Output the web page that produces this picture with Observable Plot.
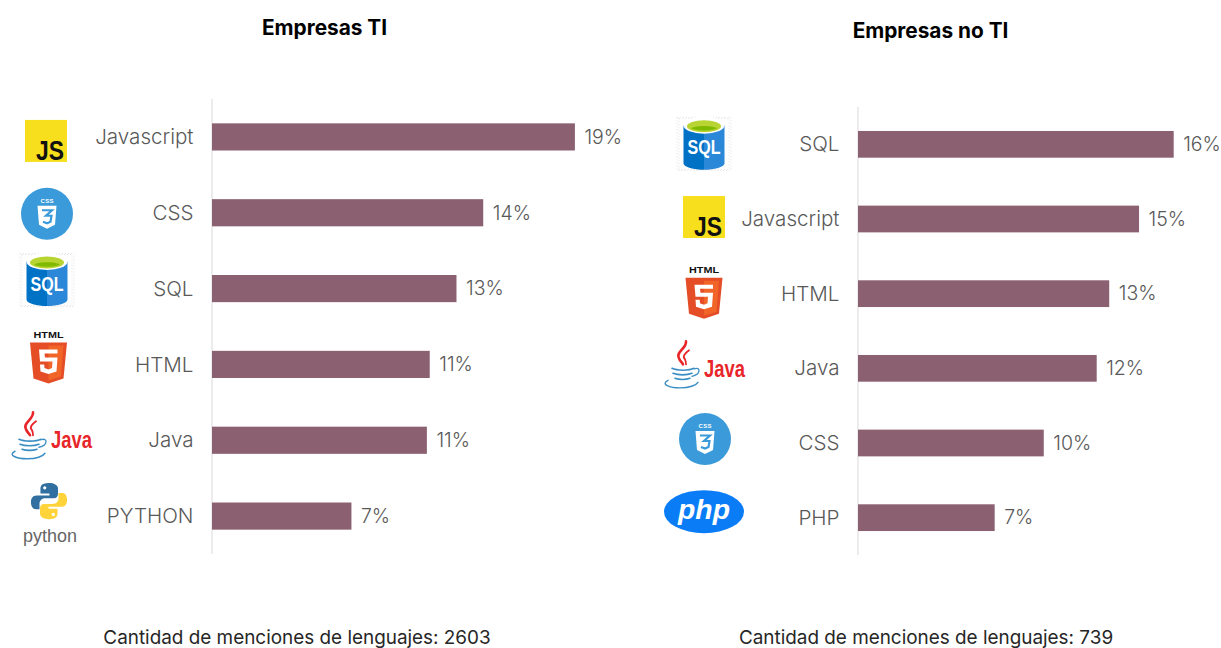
<!DOCTYPE html>
<html lang="es">
<head>
<meta charset="utf-8">
<script src="https://cdn.jsdelivr.net/npm/d3@7"></script>
<script src="https://cdn.jsdelivr.net/npm/@observablehq/plot@0.6"></script>
<style>
html,body{margin:0;padding:0;background:#fff;overflow:hidden}
#page{position:relative;width:1221px;height:648px;overflow:hidden;font-family:Inter,"Open Sans",sans-serif}
#page>div.panel{position:absolute;top:0}
.t{position:absolute;white-space:nowrap;transform:translateX(-50%)}
.title{font-weight:700;font-size:20.8px;color:#000;line-height:24px}
.cap{font-size:18.9px;color:#262626;line-height:20px;font-weight:400}
</style>
</head>
<body>
<div id="page"></div>
<script>
// Data
const categoriesTI = ["Javascript", "CSS", "SQL", "HTML", "Java", "PYTHON"];
const valuesTI = [19.0, 14.2, 12.8, 11.4, 11.25, 7.3];
const categoriesNoTI = ["SQL", "Javascript", "HTML", "Java", "CSS", "PHP"];
const valuesNoTI = [16.4, 14.6, 13.05, 12.4, 9.65, 7.1];
const titleTI = "Empresas TI";
const titleNoTI = "Empresas no TI";
const captionTI = "Cantidad de menciones de lenguajes: 2603";
const captionNoTI = "Cantidad de menciones de lenguajes: 739";

const FONT = 'Inter,"Open Sans",sans-serif';
const BAR = "#8b6071", INK = "#595959";

// Logos: markup centred on (0,0), in px
const LOGO = {
  Javascript: `<rect x="-21" y="-21" width="42" height="42" fill="#f7df1e"/>
    <text x="18" y="19" text-anchor="end" font-family="Liberation Sans" font-weight="700" font-size="27" fill="#111" textLength="28" lengthAdjust="spacingAndGlyphs">JS</text>`,
  CSS: `<circle r="26" fill="#3b9ad9"/>
    <text x="0" y="-11" text-anchor="middle" font-family="Liberation Sans" font-weight="700" font-size="6" fill="#fff" textLength="13">CSS</text>
    <path d="M-9.5,-8H9.5L8,11L0,15L-8,11Z" fill="#fff"/>
    <path d="M-5,-3.5H5L-1,2H4.5L3.5,8L0,9.5L-4,8" fill="none" stroke="#3b9ad9" stroke-width="2.2"/>`,
  SQL: `<g fill="none" stroke="#e2e2e2" stroke-width="1" stroke-dasharray="1 2">
      <rect x="-27" y="-26" width="54" height="53"/><rect x="-25" y="-25" width="50" height="51"/>
    </g>
    <path d="M-20.5,-18V20C-20.5,24 -10,26.5 0,26.5V-18Z" fill="#0072c6"/>
    <path d="M20.5,-18V20C20.5,24 10,26.5 0,26.5V-18Z" fill="#2b88d8"/>
    <ellipse cy="-18" rx="20.5" ry="8.5" fill="#fff"/>
    <ellipse cy="-17" rx="17" ry="6" fill="#b8d432"/>
    <path d="M-13,-15C-8,-12 8,-12 13,-15C8,-18 -8,-18 -13,-15Z" fill="#7fb900"/>
    <text x="0" y="11" text-anchor="middle" font-family="Liberation Sans" font-weight="700" font-size="20" fill="#fff" textLength="33" lengthAdjust="spacingAndGlyphs">SQL</text>`,
  HTML: `<text x="0" y="-19.5" text-anchor="middle" font-family="Liberation Sans" font-weight="700" font-size="9" fill="#111" textLength="30" lengthAdjust="spacingAndGlyphs">HTML</text>
    <path d="M-18.5,-15H18.5L15,21L0,26L-15,21Z" fill="#e44d26"/>
    <path d="M0,-12H15L12.5,19L0,23Z" fill="#f16529"/>
    <path d="M9,-8H-9.5L-8.5,4H4L3.5,10.5L0,12L-4,10.5L-4.3,7H-8.5L-8,14L0,16.5L8,14L9,0H-3.5L-4,-4H9Z" fill="#fff"/>`,
  Java: `<g fill="none" stroke="#e8262a" stroke-linecap="round">
      <path d="M-18,-24C-17,-17 -29,-13 -25,-7C-24,-4 -22,-3 -21,-1" stroke-width="2.6"/>
      <path d="M-15,-15C-19,-12 -22,-9 -19,-6C-18,-4 -18,-3 -18,-1" stroke-width="1.8"/>
    </g>
    <g fill="none" stroke="#3b8ec4" stroke-linecap="round">
      <path d="M-32,3C-27,5.5 -15,5.5 -10,3" stroke-width="1.6"/>
      <path d="M-31,8C-26,10 -17,10 -12,8" stroke-width="1.6"/>
      <path d="M-29,13C-25,14.5 -18,14.5 -14,13" stroke-width="1.6"/>
      <path d="M-10,3.5C-3,1 -3,9 -12,11" stroke-width="1.3"/>
      <path d="M-36,15C-44,19 -34,22.5 -24,22.5C-15,22.5 -8,20 -6,17" stroke-width="1.4"/>
    </g>
    <text x="0" y="12" text-anchor="start" font-family="Liberation Sans" font-weight="700" font-size="23" fill="#e8262a" textLength="41" lengthAdjust="spacingAndGlyphs">Java</text>`,
  PYTHON: `<g transform="translate(-2,-14) scale(0.95)">
      <path d="M0,-19C-9,-19 -9,-15 -9,-12V-8H0.5V-6H-13C-17,-6 -19,-3 -19,1C-19,6 -17,8.5 -14,8.5H-10V3C-10,-1 -7,-3 -4,-3H5C8,-3 9.5,-5 9.5,-8V-13C9.5,-17 5,-19 0,-19Z" fill="#306f9f"/>
      <path d="M0,19C9,19 9,15 9,12V8H-0.5V6H13C17,6 19,3 19,-1C19,-6 17,-8.5 14,-8.5H10V-3C10,1 7,3 4,3H-5C-8,3 -9.5,5 -9.5,8V13C-9.5,17 -5,19 0,19Z" fill="#ffd43b"/>
      <circle cx="-4.5" cy="-14" r="1.7" fill="#fff"/><circle cx="4.5" cy="14" r="1.7" fill="#fff"/>
    </g>
    <text x="-1" y="27" text-anchor="middle" font-family="Liberation Sans" font-size="19" fill="#666" textLength="54" lengthAdjust="spacingAndGlyphs">python</text>`,
  PHP: `<ellipse rx="40" ry="21.5" fill="#0a7cf5"/>
    <text x="0" y="7" text-anchor="middle" font-family="Liberation Sans" font-weight="700" font-style="italic" font-size="28" fill="#fff" textLength="52" lengthAdjust="spacingAndGlyphs">php</text>`
};

// Render-function mark: each logo sits at a pixel x, offset from its band centre
function logos(names, place) {
  return (index, {y}) => {
    const g = d3.create("svg:g");
    names.forEach((n) => {
      const [cx, dy] = place[n];
      g.append("g")
        .attr("transform", `translate(${cx},${y(n) + y.bandwidth() / 2 + dy})`)
        .html(LOGO[n]);
    });
    return g.node();
  };
}

function panel({names, values, top, bottom, x0, pxPerUnit, labelGap, width, left, place}) {
  const rows = names.map((name, i) => ({name, value: values[i]}));
  const svg = Plot.plot({
    width, height: 648,
    marginLeft: x0, marginRight: 0, marginTop: top, marginBottom: 648 - bottom,
    style: {fontFamily: FONT, background: "transparent"},
    x: {domain: [0, 20], range: [x0, x0 + 20 * pxPerUnit], axis: null},
    y: {domain: names, paddingInner: 0.642, paddingOuter: 0.321, round: false, label: null},
    marks: [
      Plot.ruleX([0], {stroke: "#d9d9d9", strokeWidth: 1, dx: -0.5}),
      Plot.barX(rows, {x: "value", y: "name", fill: BAR}),
      Plot.axisY({tickSize: 0, tickPadding: labelGap, fontSize: 20.6, color: INK, label: null, anchor: "left", fontWeight: 300}),
      Plot.text(rows, {x: "value", y: "name", text: (d) => `${Math.round(d.value)}%`, textAnchor: "start", dx: 9, fontSize: 19.5, fill: INK, fontWeight: 300}),
      logos(names, place)
    ]
  });
  const wrap = document.createElement("div");
  wrap.className = "panel";
  wrap.style.left = left + "px";
  wrap.appendChild(svg);
  return wrap;
}

const page = document.getElementById("page");
page.appendChild(panel({
  names: categoriesTI, values: valuesTI, top: 99, bottom: 554, x0: 212, pxPerUnit: 19.1, labelGap: 19, width: 640, left: 0,
  place: {Javascript: [46, 4], CSS: [47, 1], SQL: [47, -9], HTML: [48.5, -7], Java: [51, -4], PYTHON: [51, -1]}
}));
page.appendChild(panel({
  names: categoriesNoTI, values: valuesNoTI, top: 107, bottom: 555, x0: 218, pxPerUnit: 19.25, labelGap: 19, width: 581, left: 640,
  place: {SQL: [64, -1], Javascript: [64, -2], HTML: [64, -1], Java: [64, -3], CSS: [65, -4], PHP: [64, -6]}
}));

[[titleTI, 324.5, 16, "title"], [titleNoTI, 930.5, 19, "title"], [captionTI, 297, 628, "cap"], [captionNoTI, 926, 628, "cap"]].forEach(([txt, x, y, cls]) => {
  const d = document.createElement("div");
  d.className = "t " + cls;
  d.style.left = x + "px";
  d.style.top = y + "px";
  d.textContent = txt;
  page.appendChild(d);
});
</script>
</body>
</html>
